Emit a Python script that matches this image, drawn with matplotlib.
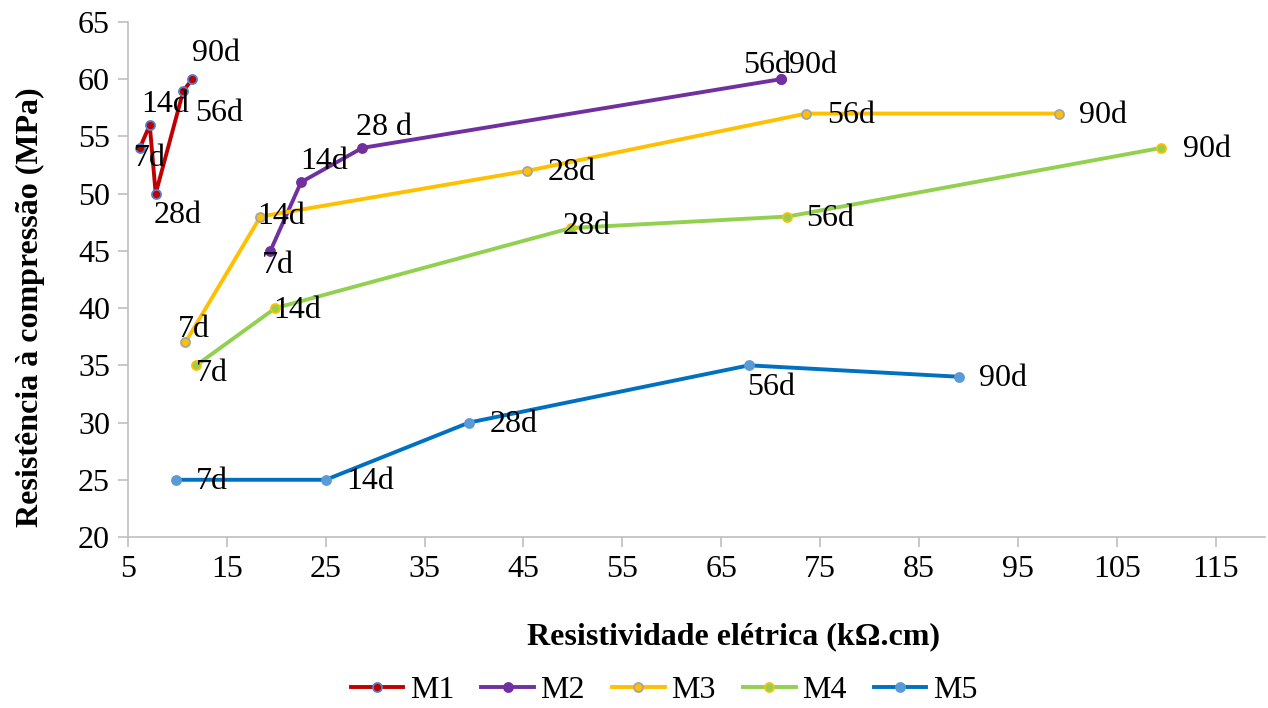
import matplotlib
matplotlib.use("Agg")
import matplotlib.pyplot as plt

plt.rcParams['font.family'] = ['Liberation Serif', 'DejaVu Serif']

ages = ["7d", "14d", "28d", "56d", "90d"]

m1_res = [6.2, 7.2, 7.8, 10.6, 11.5]
m1_fc = [54, 56, 50, 59, 60]

m2_res = [19.4, 22.5, 28.7, 71.0, 71.0]
m2_fc = [45, 51, 54, 60, 60]

m3_res = [10.8, 18.4, 45.4, 73.6, 99.2]
m3_fc = [37, 48, 52, 57, 57]

m4_res = [11.9, 19.9, 49.8, 71.7, 109.5]
m4_fc = [35, 40, 47, 48, 54]

m5_res = [9.9, 25.0, 39.5, 67.8, 89.1]
m5_fc = [25, 25, 30, 35, 34]

m2_labels = ["7d", "14d", "28 d", "56d", "90d"]

# label offsets in pixels (dx, dy) for each point
m1_off = [(10, -11), (15, 21), (22, -22), (36, -23), (24, 26)]
m2_off = [(8, -15), (23, 21), (22, 20), (-13, 14), (32, 14)]
m3_off = [(9, 13), (21, 0), (44, -2), (45, -2), (44, -2)]
m4_off = [(16, -8), (22, -2), (16, 2), (43, -2), (46, -2)]
m5_off = [(35, -2), (44, -2), (45, -2), (22, -22), (44, -2)]

series = [
    ("M1", m1_res, m1_fc, ages, m1_off, "#C00000", "#C00000", "#4F81D0"),
    ("M2", m2_res, m2_fc, m2_labels, m2_off, "#7030A0", "#7030A0", "#7030A0"),
    ("M3", m3_res, m3_fc, ages, m3_off, "#FFC000", "#FFC000", "#A5A5A5"),
    ("M4", m4_res, m4_fc, ages, m4_off, "#92D050", "#92D050", "#FFC000"),
    ("M5", m5_res, m5_fc, ages, m5_off, "#0070C0", "#5B9BD5", "#5B9BD5"),
]

fig = plt.figure(figsize=(12.68, 7.08), dpi=100)
ax = fig.add_axes([128 / 1268, 1 - 537 / 708, (1265 - 128) / 1268, (537 - 22) / 708])

fs = 23
for name, xs, ys, labs, offs, lc, mfc, mec in series:
    ax.plot(xs, ys, color=lc, lw=2.8, marker="o", ms=6.5, mfc=mfc, mec=mec,
            mew=1.3, label=name, zorder=3)
    for x, y, t, (dx, dy) in zip(xs, ys, labs, offs):
        ax.annotate(t, (x, y), xytext=(dx, dy), textcoords="offset pixels",
                    ha="center", va="center", fontsize=fs, color="black", zorder=4)

ax.set_xlim(5, 120)
ax.set_ylim(20, 65)
ax.set_xticks(range(5, 116, 10))
ax.set_yticks(range(20, 66, 5))
ax.tick_params(axis="both", labelsize=fs, color="#BFBFBF", length=7, width=1.2,
               direction="out", pad=6)
for side in ("top", "right"):
    ax.spines[side].set_visible(False)
for side in ("left", "bottom"):
    ax.spines[side].set_color("#BFBFBF")
    ax.spines[side].set_linewidth(1.2)

fig.text(734 / 1268, 1 - 637 / 708, "Resistividade elétrica (kΩ.cm)",
         ha="center", va="center", fontsize=fs, fontweight="bold")
fig.text(30 / 1268, 1 - 307 / 708, "Resistência à compressão (MPa)",
         ha="center", va="center", fontsize=fs, fontweight="bold", rotation=90)

fig.legend(loc="center", bbox_to_anchor=(664 / 1268, 1 - 690 / 708), ncol=5,
           frameon=False, fontsize=fs, handlelength=1.65, columnspacing=0.85,
           handletextpad=0.2)

fig.savefig("out.png", dpi=100)
